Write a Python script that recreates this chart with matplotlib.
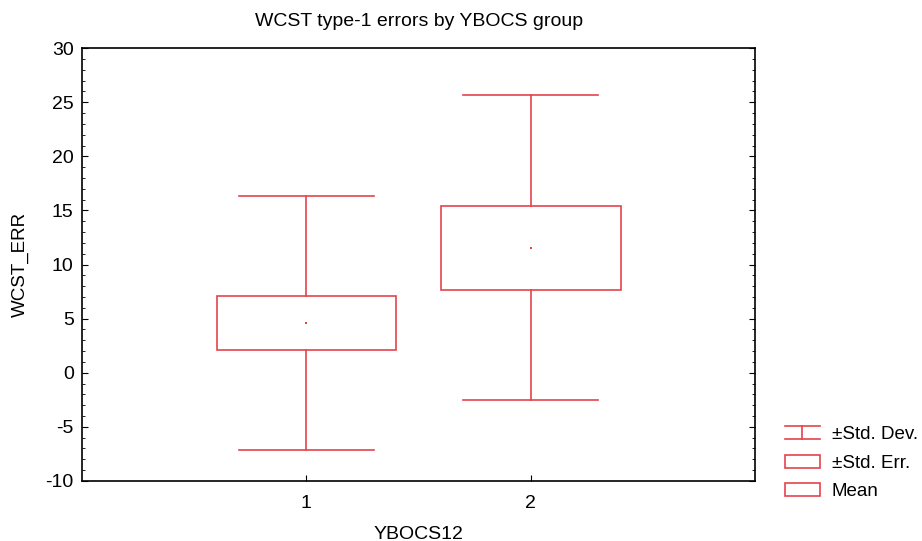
import numpy as np
import matplotlib
matplotlib.use('Agg')
import matplotlib.pyplot as plt
from matplotlib.lines import Line2D
from matplotlib.patches import Rectangle
from matplotlib.legend_handler import HandlerBase
from matplotlib.ticker import MultipleLocator

plt.rcParams['font.family'] = ['Liberation Sans', 'DejaVu Sans']
plt.rcParams['axes.unicode_minus'] = False

groups = [1, 2]
means = [4.6, 11.55]
std_err = [2.5, 3.86]
std_dev = [11.7, 14.1]

red = '#e4434b'


class HandlerSD(HandlerBase):
    def create_artists(self, legend, orig_handle, xdescent, ydescent,
                       width, height, fontsize, trans):
        x0, x1 = -xdescent, -xdescent + width
        y0, y1 = -ydescent, -ydescent + height
        xm = (x0 + x1) / 2
        arts = [Line2D([x0, x1], [y1, y1]), Line2D([x0, x1], [y0, y0]),
                Line2D([xm, xm], [y0, y1])]
        for a in arts:
            a.set_color(red)
            a.set_linewidth(1.2)
            a.set_transform(trans)
        return arts


class HandlerBox(HandlerBase):
    def create_artists(self, legend, orig_handle, xdescent, ydescent,
                       width, height, fontsize, trans):
        r = Rectangle((-xdescent, -ydescent), width, height, facecolor='none',
                      edgecolor=red, linewidth=1.2, transform=trans)
        return [r]


fig = plt.figure(figsize=(9.22, 5.41), dpi=100)
ax = fig.add_axes([0.089, 0.111, 0.730, 0.800])

box_w = 0.8
cap_w = 0.6
for x, m, se, sd in zip(groups, means, std_err, std_dev):
    ax.add_patch(Rectangle((x - box_w / 2, m - se), box_w, 2 * se,
                           facecolor='none', edgecolor=red, linewidth=1.2, zorder=3))
    ax.plot([x, x], [m + se, m + sd], color=red, lw=1.2)
    ax.plot([x, x], [m - sd, m - se], color=red, lw=1.2)
    ax.plot([x - cap_w / 2, x + cap_w / 2], [m + sd, m + sd], color=red, lw=1.2)
    ax.plot([x - cap_w / 2, x + cap_w / 2], [m - sd, m - sd], color=red, lw=1.2)
    ax.plot([x], [m], marker='s', ms=1.6, color=red, mew=0)

ax.set_xlim(0, 3)
ax.set_ylim(-10, 30)
ax.set_xticks(groups)
ax.yaxis.set_major_locator(MultipleLocator(5))
ax.yaxis.set_minor_locator(MultipleLocator(1))
ax.tick_params(axis='y', which='both', direction='in', left=True, right=True,
               labelsize=14, pad=6)
ax.tick_params(axis='y', which='major', length=4)
ax.tick_params(axis='y', which='minor', length=2.5)
ax.tick_params(axis='x', direction='in', length=4, labelsize=14, pad=10)
for s in ax.spines.values():
    s.set_linewidth(1.2)

ax.set_title('WCST type-1 errors by YBOCS group', fontsize=14, pad=16)
ax.set_xlabel('YBOCS12', fontsize=14, labelpad=10)
ax.set_ylabel('WCST_ERR', fontsize=13.5, labelpad=12)

h_sd = object()
h_se = object()
h_mean = object()
fig.legend([h_sd, h_se, h_mean], ['±Std. Dev.', '±Std. Err.', 'Mean'],
           handler_map={h_sd: HandlerSD(), h_se: HandlerBox(), h_mean: HandlerBox()},
           loc='upper left', bbox_to_anchor=(0.851, 0.213), frameon=False,
           fontsize=13.5, handlelength=1.87, handleheight=0.7, handletextpad=0.64,
           labelspacing=0.62, borderpad=0, borderaxespad=0)

fig.savefig('out.png', dpi=100)
